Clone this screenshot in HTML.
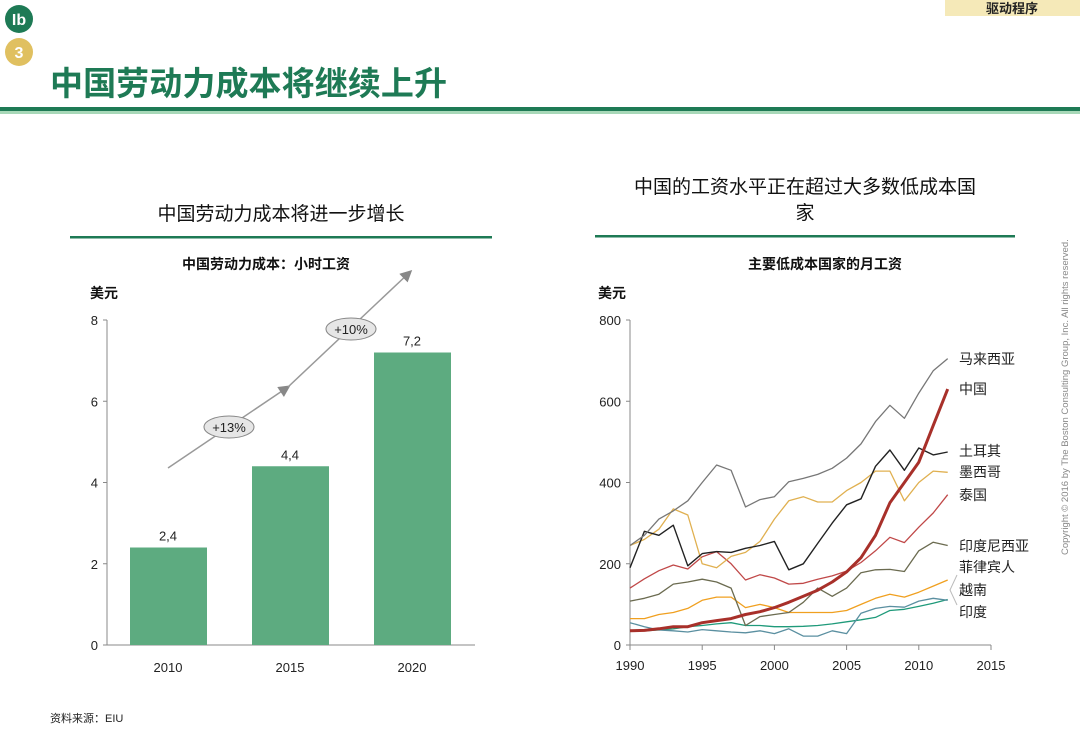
<!DOCTYPE html>
<html><head><meta charset="utf-8">
<style>
body{margin:0;width:1080px;height:748px;background:#fff;overflow:hidden;font-family:"Liberation Sans","Noto Sans CJK SC",sans-serif;}
svg{position:absolute;left:0;top:0}
text{font-family:"Liberation Sans","Noto Sans CJK SC",sans-serif;}
</style></head><body>
<svg width="1080" height="748">
<g>
<circle cx="19" cy="19" r="14" fill="#1e7a55"/>
<text x="19" y="25" text-anchor="middle" font-size="16" font-weight="bold" fill="#fff">Ib</text>
<circle cx="19" cy="52" r="14" fill="#e0c060"/>
<text x="19" y="58" text-anchor="middle" font-size="16" font-weight="bold" fill="#fff">3</text>
<rect x="945" y="0" width="135" height="16" fill="#f5e9b8"/>
<text x="1012" y="13" text-anchor="middle" font-size="13" font-weight="bold" fill="#222">驱动程序</text>
<text x="50" y="95" font-size="33" font-weight="bold" fill="#1e7a55" textLength="397">中国劳动力成本将继续上升</text>
<rect x="0" y="107" width="1080" height="4" fill="#1e7a55"/>
<rect x="0" y="111" width="1080" height="3" fill="#a8d8b8"/>
</g>
<g>
<text x="281" y="220" text-anchor="middle" font-size="19" fill="#111">中国劳动力成本将进一步增长</text>
<rect x="70" y="236" width="422" height="2.5" fill="#1e7a55"/>
<text x="266" y="269" text-anchor="middle" font-size="14" font-weight="bold" fill="#111">中国劳动力成本：小时工资</text>
<text x="90" y="298" font-size="14" font-weight="bold" fill="#111">美元</text>
<g id="bars"></g>
</g>
<g>
<text x="805" y="193" text-anchor="middle" font-size="19" fill="#111">中国的工资水平正在超过大多数低成本国</text>
<text x="805" y="219" text-anchor="middle" font-size="19" fill="#111">家</text>
<rect x="595" y="235" width="420" height="2.5" fill="#1e7a55"/>
<text x="825" y="269" text-anchor="middle" font-size="14" font-weight="bold" fill="#111">主要低成本国家的月工资</text>
<text x="598" y="298" font-size="14" font-weight="bold" fill="#111">美元</text>
<g id="lines"></g>
</g>
<text x="50" y="722" font-size="11" fill="#222">资料来源：EIU</text>
<text transform="translate(1068,555) rotate(-90)" font-size="9.5" fill="#888">Copyright © 2016 by The Boston Consulting Group, Inc. All rights reserved.</text>
</svg>
<script>
const barCats=["2010","2015","2020"];
const barVals=[2.4,4.4,7.2];
const barLabels=["2,4","4,4","7,2"];
const barTicks=[0,2,4,6,8];
const years=[1990,1991,1992,1993,1994,1995,1996,1997,1998,1999,2000,2001,2002,2003,2004,2005,2006,2007,2008,2009,2010,2011,2012];
const malaysia=[245,270,310,330,355,400,443,430,340,358,365,402,410,420,435,460,495,550,590,558,620,675,705];
const china=[35,36,40,45,45,55,60,65,75,82,92,105,120,135,155,180,215,270,350,400,450,540,630];
const turkey=[190,280,270,295,195,225,230,228,238,245,255,185,200,250,300,345,360,440,480,430,485,468,475];
const mexico=[245,260,285,335,320,200,190,218,228,255,310,355,365,352,352,380,400,428,428,355,400,428,425];
const thailand=[140,163,183,197,187,217,230,200,160,173,165,150,152,162,170,182,203,232,265,252,290,325,370];
const indonesia=[108,115,125,150,155,162,155,140,48,70,75,80,105,140,120,140,178,185,186,181,232,253,245];
const philippines=[65,65,75,80,90,110,118,118,92,100,92,80,80,80,80,85,100,115,125,118,130,145,160];
const vietnam=[55,45,37,35,32,38,35,32,30,35,28,40,22,22,35,28,78,90,95,93,108,115,110];
const india=[35,35,37,40,45,48,52,55,48,48,45,45,46,48,52,57,62,68,85,88,95,103,112];
const lineTicks=[0,200,400,600,800];
const xTicks=[1990,1995,2000,2005,2010,2015];
const NS="http://www.w3.org/2000/svg";
function mk(p,t,a,txt){const e=document.createElementNS(NS,t);for(const k in a)e.setAttribute(k,a[k]);if(txt!==undefined)e.textContent=txt;p.appendChild(e);return e;}
const bg=document.getElementById('bars');
const by=v=>645-v*(325/8);
const bx=i=>130+i*122;
let e=mk(bg,'line',{x1:107,y1:320,x2:107,y2:645,stroke:'#888'});

e=mk(bg,'line',{x1:107,y1:645,x2:475,y2:645,stroke:'#888'});

barTicks.forEach(t=>{mk(bg,'line',{x1:103,y1:by(t),x2:107,y2:by(t),stroke:'#888'});
e=mk(bg,'text',{x:98,y:by(t)+5,'text-anchor':'end','font-size':13,fill:'#222'},String(t));
});
barVals.forEach((v,i)=>{
e=mk(bg,'rect',{x:bx(i),y:by(v),width:77,height:645-by(v),fill:'#5dab80'});

e=mk(bg,'text',{x:bx(i)+38,y:by(v)-7,'text-anchor':'middle','font-size':13,fill:'#222'},barLabels[i]);

e=mk(bg,'text',{x:bx(i)+38,y:672,'text-anchor':'middle','font-size':13,fill:'#222'},barCats[i]);

});
mk(bg,'defs',{}).innerHTML='<marker id="ah" markerWidth="8" markerHeight="8" refX="6" refY="4" orient="auto"><path d="M0,0 L8,4 L0,8 z" fill="#888"/></marker>';
e=mk(bg,'line',{x1:168,y1:468,x2:288,y2:387,stroke:'#999','stroke-width':1.5,'marker-end':'url(#ah)'});

e=mk(bg,'line',{x1:288,y1:387,x2:410,y2:272,stroke:'#999','stroke-width':1.5,'marker-end':'url(#ah)'});

[[229,427,'+13%'],[351,329,'+10%']].forEach(([x,y,t])=>{
e=mk(bg,'ellipse',{cx:x,cy:y,rx:25,ry:11,fill:'#e6e6e6',stroke:'#888'});

mk(bg,'text',{x:x,y:y+5,'text-anchor':'middle','font-size':13,fill:'#222'},t);});
const lg=document.getElementById('lines');
const lx=yr=>630+(yr-1990)*(361/25);
const ly=v=>645-v*(325/800);
e=mk(lg,'line',{x1:630,y1:320,x2:630,y2:645,stroke:'#888'});

e=mk(lg,'line',{x1:630,y1:645,x2:991,y2:645,stroke:'#888'});

lineTicks.forEach(t=>{mk(lg,'line',{x1:626,y1:ly(t),x2:630,y2:ly(t),stroke:'#888'});
e=mk(lg,'text',{x:621,y:ly(t)+5,'text-anchor':'end','font-size':13,fill:'#222'},String(t));
});
xTicks.forEach(t=>{mk(lg,'line',{x1:lx(t),y1:645,x2:lx(t),y2:650,stroke:'#888'});
e=mk(lg,'text',{x:lx(t),y:670,'text-anchor':'middle','font-size':13,fill:'#222'},String(t));
});
const series=[
['india',india,'#1f9a7a',1.3,'印度',612],
['vietnam',vietnam,'#5a8fa0',1.3,'越南',590],
['philippines',philippines,'#f0a020',1.3,'菲律宾人',567],
['indonesia',indonesia,'#6b6b50',1.3,'印度尼西亚',546],
['thailand',thailand,'#c04848',1.3,'泰国',495],
['mexico',mexico,'#e0b050',1.3,'墨西哥',472],
['turkey',turkey,'#222',1.4,'土耳其',451],
['malaysia',malaysia,'#777',1.3,'马来西亚',359],
['china',china,'#a8302a',3,'中国',389]];
series.forEach(([n,d,c,w,lab,labY])=>{
const pts=d.map((v,i)=>lx(years[i]).toFixed(1)+','+ly(v).toFixed(1)).join(' ');
e=mk(lg,'polyline',{points:pts,fill:'none',stroke:c,'stroke-width':w,'stroke-linejoin':'round'});

e=mk(lg,'text',{x:959,y:labY+5,'font-size':14,fill:'#222'},lab);

});
mk(lg,'path',{d:'M957,575 L950,590 L957,605',fill:'none',stroke:'#bbb'});
</script>
</body></html>
